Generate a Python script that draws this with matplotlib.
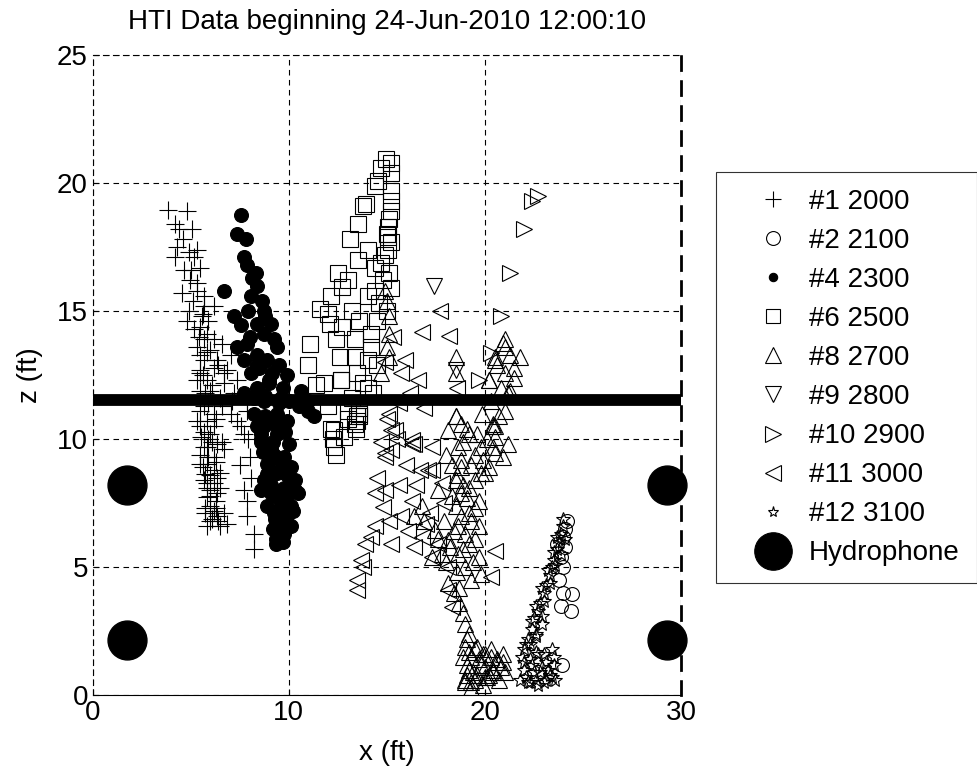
import matplotlib
matplotlib.use("Agg")
import matplotlib.pyplot as plt
from matplotlib.lines import Line2D

plt.rcParams["font.family"] = ["Liberation Sans", "DejaVu Sans"]

TITLE = "HTI Data beginning 24-Jun-2010 12:00:10"
X_TICKS = [0, 10, 20, 30]
Z_TICKS = [0, 5, 10, 15, 20, 25]

# track #1 (2000)
t1_x = [3.86, 4.80, 4.20, 5.06, 4.38, 4.29, 5.30, 5.15, 4.20, 4.63, 5.49, 4.97,
        5.30, 4.55, 5.66, 6.17, 4.80, 5.57, 5.15, 5.66, 6.60, 5.49, 6.34, 5.49,
        6.85, 5.83, 6.68, 5.49, 7.20, 5.49, 7.03, 7.88, 5.83, 5.30, 7.54, 6.00,
        6.34, 5.66, 6.68, 5.83, 6.17, 5.66, 8.05, 6.51, 7.70, 7.88, 5.83, 6.17,
        6.68, 6.00, 6.51, 7.88, 8.20, 8.20, 5.49, 5.74, 5.66, 5.90, 5.49, 6.00,
        6.26, 5.66, 5.49, 5.83, 5.30, 6.00, 5.66, 6.17, 5.30, 6.00, 6.50, 5.66,
        6.17, 5.49, 6.17, 5.83, 5.49, 6.17, 5.74, 6.34, 5.83, 6.34, 6.00, 5.74,
        6.34, 6.85, 5.83, 6.68, 7.03, 7.37, 7.88, 7.37, 7.70, 5.60, 5.90, 5.40,
        6.20, 5.80, 6.40, 5.60, 6.10, 6.60, 5.90, 6.30, 5.50, 6.10, 6.60, 5.90,
        6.30, 5.60, 6.00, 6.50, 5.80, 6.20, 6.00, 5.70, 6.30, 6.10, 6.40, 7.90,
        7.50, 8.00, 7.10, 4.60, 4.90, 5.00, 5.30, 5.10, 4.90]
t1_z = [18.95, 18.90, 18.40, 18.20, 18.20, 17.50, 17.40, 17.10, 17.10, 16.60,
        16.70, 16.20, 15.80, 15.70, 15.60, 15.20, 14.60, 14.80, 14.30, 13.90,
        13.70, 13.30, 13.10, 12.70, 12.70, 12.30, 12.20, 11.90, 11.80, 11.10,
        11.00, 11.10, 10.70, 10.70, 10.50, 10.20, 9.80, 9.70, 9.60, 9.05, 8.80,
        8.40, 8.50, 8.10, 8.00, 7.60, 7.75, 7.20, 7.10, 6.80, 6.60, 7.00, 6.30,
        5.70, 12.60, 11.80, 10.30, 10.00, 9.05, 8.00, 7.60, 15.20, 14.40, 14.10,
        13.60, 13.50, 13.10, 12.80, 12.30, 11.90, 11.60, 11.30, 11.00, 10.50,
        10.50, 9.70, 9.40, 9.30, 8.65, 8.50, 8.10, 7.90, 7.40, 7.10, 7.00, 6.70,
        6.60, 12.60, 13.30, 12.30, 11.40, 10.70, 10.20, 14.90, 14.60, 14.00,
        13.90, 13.40, 12.90, 12.50, 12.10, 11.30, 11.40, 10.80, 10.10, 9.90,
        9.90, 9.30, 9.10, 8.90, 8.60, 8.70, 8.30, 8.30, 7.80, 7.30, 7.30, 6.90,
        6.80, 10.00, 9.00, 9.30, 11.50, 17.80, 17.30, 16.60, 16.10, 15.40, 15.00]

# track #2 (2100)
t2_x = [24.20, 24.10, 24.00, 24.10, 23.90, 24.00, 23.80, 24.00, 23.90, 24.40,
        24.46, 23.95, 23.70]
t2_z = [6.80, 6.50, 6.20, 5.80, 5.40, 5.00, 4.50, 4.00, 3.50, 3.30, 3.97, 1.17,
        5.90]

# track #4 (2300)
t4_x = [7.54, 7.37, 7.80, 7.70, 7.88, 8.30, 8.40, 6.68, 8.05, 8.65, 8.73, 7.20,
        7.54, 8.40, 9.08, 8.73, 9.25, 7.37, 7.88, 9.42, 8.40, 8.90, 7.70, 9.93,
        8.05, 9.16, 9.68, 10.60, 8.40, 7.70, 8.73, 10.96, 11.30, 8.22, 9.42,
        9.93, 8.73, 9.42, 8.56, 10.00, 9.08, 9.76, 8.90, 10.10, 9.42, 8.73,
        10.30, 9.76, 9.08, 10.45, 9.60, 10.10, 9.25, 9.93, 9.42, 10.10, 9.76,
        9.33, 9.33, 8.90, 9.25, 9.60, 8.40, 9.00, 9.50, 8.80, 9.20, 9.70, 8.60,
        9.10, 9.55, 9.85, 9.30, 8.50, 9.00, 8.20, 9.60, 8.80, 9.30, 8.60, 9.80,
        9.20, 8.70, 9.50, 9.00, 9.90, 8.60, 9.30, 9.90, 8.90, 9.60, 10.20, 9.20,
        9.70, 10.30, 8.40, 8.00, 8.80, 7.90, 8.10, 9.50, 10.00, 11.00, 10.50]
t4_z = [18.75, 18.00, 17.80, 17.10, 16.80, 16.50, 16.00, 15.80, 15.60, 15.40,
        15.00, 14.80, 14.45, 14.50, 14.50, 14.10, 13.90, 13.60, 13.70, 13.60,
        13.30, 13.10, 13.10, 12.50, 12.60, 12.60, 12.00, 11.90, 12.00, 11.80,
        11.50, 11.10, 10.90, 11.00, 11.00, 10.70, 10.50, 10.20, 10.00, 9.80,
        9.60, 9.30, 9.05, 8.90, 8.70, 8.40, 8.40, 8.10, 7.90, 7.90, 7.60, 7.40,
        7.10, 7.00, 6.60, 6.60, 6.30, 6.10, 5.90, 8.65, 9.40, 10.50, 10.50,
        12.20, 11.40, 11.70, 10.80, 9.10, 9.90, 8.20, 7.30, 8.00, 6.90, 12.80,
        12.30, 11.60, 11.60, 10.90, 10.60, 10.20, 10.30, 9.90, 9.50, 9.20, 8.80,
        8.60, 8.00, 7.80, 7.80, 7.40, 6.90, 7.20, 6.50, 6.00, 8.00, 12.90, 14.00,
        14.80, 15.00, 16.30, 12.90, 11.50, 11.50, 11.30]

# track #6 (2500)
t6_x = [14.97, 15.20, 14.70, 15.20, 14.55, 14.40, 15.20, 15.20, 13.95, 13.80,
        15.20, 13.52, 15.06, 13.10, 15.06, 14.03, 15.06, 13.52, 14.70, 14.40,
        12.50, 13.00, 12.70, 14.40, 14.03, 12.16, 12.00, 13.20, 13.60, 12.70,
        14.20, 13.35, 12.40, 12.60, 13.35, 14.03, 12.66, 13.50, 11.80, 14.03,
        11.98, 13.00, 13.50, 13.35, 12.15, 12.30, 12.40, 11.40, 12.67, 11.60,
        12.10, 11.10, 11.00, 12.30, 12.25, 13.45, 13.60, 15.10, 15.00, 15.20,
        14.90, 15.10, 14.80, 15.20, 14.60, 15.00, 14.50, 14.20, 14.50, 13.80,
        13.20, 13.60, 13.00, 12.80, 13.40, 13.60, 14.30]
t6_z = [20.96, 20.80, 20.60, 20.40, 20.10, 19.90, 19.70, 19.30, 19.20, 19.10,
        18.90, 18.40, 18.30, 17.80, 17.90, 17.40, 17.40, 17.00, 16.90, 16.70,
        16.50, 16.20, 15.95, 15.80, 15.60, 15.60, 14.90, 15.00, 14.60, 14.40,
        14.10, 13.90, 13.90, 13.20, 13.20, 13.10, 12.30, 12.60, 12.20, 12.00,
        11.30, 11.10, 10.90, 10.60, 10.40, 9.70, 9.40, 12.10, 12.30, 15.10,
        14.50, 13.70, 12.90, 10.35, 10.00, 10.70, 11.00, 18.60, 18.00, 17.70,
        17.20, 16.50, 16.20, 15.90, 15.30, 15.00, 14.60, 13.60, 12.90, 12.20,
        11.60, 11.20, 10.80, 10.10, 10.40, 10.90, 11.80]

# track #8 (2700)
t8_x = [21.00, 21.80, 21.50, 21.30, 21.00, 20.50, 20.50, 20.00, 20.90, 20.50,
        20.20, 21.00, 20.50, 21.50, 20.20, 21.20, 18.50, 18.50, 14.90, 15.00,
        15.10, 15.10, 15.00, 15.10, 14.70, 18.50, 18.10, 19.20, 20.40, 19.80,
        21.20, 18.80, 20.90, 18.65, 19.50, 18.80, 19.80, 18.50, 19.20, 18.80,
        19.70, 18.50, 19.20, 18.65, 19.70, 18.10, 19.20, 17.80, 18.65, 19.70,
        17.30, 19.00, 19.80, 19.30, 16.80, 16.40, 16.90, 17.45, 20.40, 20.50,
        20.40, 19.85, 20.70, 18.80, 18.50, 18.70, 18.90, 19.20, 19.00, 18.90,
        19.10, 19.40, 19.70, 20.00, 20.30, 20.60, 20.90, 19.00, 19.30, 19.60,
        20.00, 20.40, 20.80, 19.20, 19.50, 19.90, 20.20, 19.30, 18.90, 19.30,
        18.60, 19.50, 18.90, 19.10, 18.30, 19.50, 18.80, 19.30, 18.40, 19.00,
        19.50, 18.20, 18.90, 19.40, 18.60, 18.00, 19.60, 19.10, 20.10, 20.30,
        20.80, 21.00, 20.60, 21.30, 19.90, 20.20, 18.30, 18.00, 17.60, 17.90,
        17.60, 18.10, 18.40, 18.70, 19.00, 19.10, 19.00, 19.20, 19.50, 19.80,
        20.10, 20.40, 20.70, 21.00, 19.30, 19.60, 20.00, 20.30, 20.60, 20.90,
        19.10, 19.90]
t8_z = [13.60, 13.20, 12.40, 11.90, 11.10, 10.50, 9.45, 8.70, 13.75, 13.10,
        12.30, 13.90, 13.20, 12.80, 12.30, 11.80, 13.20, 12.60, 15.80, 15.40,
        14.80, 14.10, 13.60, 13.20, 12.60, 10.90, 10.35, 10.20, 10.50, 9.70,
        9.80, 9.20, 9.30, 9.70, 9.40, 8.90, 8.70, 8.40, 8.10, 7.90, 7.60, 7.40,
        7.10, 6.60, 6.60, 6.05, 5.90, 5.50, 5.50, 5.40, 5.40, 5.00, 4.75, 4.50,
        7.40, 7.00, 6.80, 6.45, 9.70, 10.10, 10.60, 11.00, 10.90, 10.60, 10.90,
        4.20, 3.20, 2.40, 1.90, 1.50, 1.20, 0.90, 1.40, 1.10, 1.50, 1.30, 1.60,
        0.60, 0.50, 0.80, 0.70, 0.90, 1.10, 1.70, 1.80, 1.60, 0.80, 0.30, 9.90,
        9.00, 8.60, 8.40, 8.20, 7.70, 7.80, 7.30, 7.00, 6.80, 6.40, 6.30, 6.10,
        5.80, 5.70, 5.20, 4.80, 5.20, 10.20, 10.40, 10.00, 11.50, 12.00, 12.60,
        12.90, 13.30, 9.20, 8.90, 9.00, 9.40, 8.00, 6.80, 6.10, 4.40, 4.00,
        3.60, 2.80, 2.20, 0.50, 1.00, 0.60, 1.20, 0.70, 1.00, 0.60, 0.90, 1.50,
        1.90, 1.60, 1.80, 1.40, 1.30, 0.80, 0.40]

# track #9 (2800)
t9_x = [17.40, 18.50]
t9_z = [16.00, 12.70]

# track #10 (2900)
t10_x = [22.70, 22.40, 22.00, 21.30, 20.80, 20.30, 19.70]
t10_z = [19.50, 19.30, 18.20, 16.50, 14.80, 13.35, 12.30]

# track #11 (3000)
t11_x = [17.70, 16.80, 18.15, 15.90, 15.70, 16.60, 16.90, 15.10, 15.40, 16.30,
         14.90, 15.20, 16.26, 15.20, 14.90, 17.30, 17.10, 14.50, 14.40, 14.80,
         14.40, 13.90, 13.70, 13.50, 13.50, 15.20, 15.70, 16.40, 16.80, 18.10,
         18.30, 20.50, 20.30, 16.70, 17.80, 16.26, 17.30, 16.40, 17.30, 18.10,
         17.00, 18.60, 17.20, 15.00, 15.50, 14.70, 16.00, 15.60, 14.90, 16.50,
         15.10, 14.20, 13.80, 16.10, 17.60, 17.90, 15.30, 14.90, 16.20, 15.60]
t11_z = [15.00, 14.20, 14.05, 13.10, 12.60, 12.30, 11.20, 11.00, 10.35, 9.95,
         9.45, 10.35, 9.83, 9.57, 9.30, 9.70, 8.80, 8.50, 7.90, 7.35, 6.60,
         5.90, 5.30, 4.50, 4.10, 5.90, 7.00, 5.80, 6.20, 4.10, 3.45, 5.65, 4.60,
         8.80, 8.30, 7.60, 5.40, 9.80, 8.80, 5.00, 6.70, 12.00, 7.10, 10.80,
         10.00, 9.90, 9.00, 8.20, 8.00, 8.20, 6.80, 6.20, 5.00, 6.40, 5.90, 7.50,
         14.00, 13.00, 11.80, 11.40]

# track #12 (3100)
t12_x = [22.00, 22.20, 22.40, 22.50, 22.70, 22.80, 23.00, 23.10, 23.30, 23.40,
         23.50, 23.70, 23.80, 23.90, 24.00, 21.90, 22.30, 22.70, 23.10, 23.50,
         22.00, 22.50, 22.90, 23.30, 21.80, 22.20, 22.60, 23.00, 23.40, 22.10,
         22.90, 22.60, 22.10, 22.40, 22.80, 23.20, 23.50, 22.30, 22.70, 23.10,
         23.60, 22.00, 22.60, 23.00, 23.40, 22.30, 22.60, 22.40, 22.90, 22.60,
         23.00, 22.90, 23.30, 23.20, 23.60, 23.50, 23.90, 23.70, 24.10, 24.00]
t12_z = [1.80, 2.20, 2.60, 3.00, 3.30, 3.60, 4.00, 4.30, 4.70, 5.00, 5.30,
         5.70, 6.00, 6.30, 6.60, 1.50, 1.40, 1.60, 1.30, 1.50, 1.00, 0.90, 1.10,
         0.80, 0.60, 0.50, 0.60, 0.50, 0.70, 2.00, 2.80, 2.40, 0.70, 1.20, 0.90,
         1.00, 1.20, 0.50, 0.40, 0.60, 0.60, 1.30, 1.70, 1.60, 1.80, 2.00, 2.30,
         2.90, 3.10, 3.50, 3.70, 4.20, 4.40, 4.90, 5.10, 5.60, 5.50, 6.20, 6.10,
         6.90]

# hydrophone positions and the thick line
hyd_x = [1.75, 1.75, 29.3, 29.3]
hyd_z = [8.2, 2.15, 8.2, 2.15]
line_z = 11.55

fig = plt.figure(figsize=(9.77, 7.76), dpi=100)
ax = fig.add_axes([0.095, 0.104, 0.602, 0.825])

mk = dict(linestyle="none", color="black", markeredgewidth=0.8)
ax.plot(t1_x, t1_z, marker="+", markersize=13, **mk)
ax.plot(t2_x, t2_z, marker="o", markersize=10, markerfacecolor="none", **mk)
ax.plot(t4_x, t4_z, marker="o", markersize=10, **mk)
ax.plot(t6_x, t6_z, marker="s", markersize=11, markerfacecolor="none", **mk)
ax.plot(t8_x, t8_z, marker="^", markersize=12, markerfacecolor="none", **mk)
ax.plot(t9_x, t9_z, marker="v", markersize=12, markerfacecolor="none", **mk)
ax.plot(t10_x, t10_z, marker=">", markersize=12, markerfacecolor="none", **mk)
ax.plot(t11_x, t11_z, marker="<", markersize=12, markerfacecolor="none", **mk)
ax.plot(t12_x, t12_z, marker="*", markersize=10, markerfacecolor="none", **mk)

ax.axhline(line_z, color="black", linewidth=8.5, zorder=5)
ax.plot(hyd_x, hyd_z, linestyle="none", marker="o", markersize=28,
        color="black", zorder=6, clip_on=False)

ax.set_xlim(0, 30)
ax.set_ylim(0, 25)
ax.set_xticks(X_TICKS)
ax.set_yticks(Z_TICKS)
ax.tick_params(direction="in", labelsize=20, length=4)
ax.grid(True, color="black", linestyle=(0, (5, 4)), linewidth=0.8)
for side in ["top", "left", "right"]:
    ax.spines[side].set_linestyle((0, (5, 4)))
ax.spines["right"].set_linewidth(2)

ax.set_title(TITLE, fontsize=20, pad=19)
ax.set_xlabel("x (ft)", fontsize=20, labelpad=10)
ax.set_ylabel("z (ft)", fontsize=20, labelpad=10)

labels = ["#1 2000", "#2 2100", "#4 2300", "#6 2500", "#8 2700",
          "#9 2800", "#10 2900", "#11 3000", "#12 3100", "Hydrophone"]
styles = [("+", 11, "black"), ("o", 10, "none"), ("o", 6, "black"),
          ("s", 10, "none"), ("^", 11, "none"), ("v", 11, "none"),
          (">", 11, "none"), ("<", 11, "none"), ("*", 8, "none"),
          ("o", 27, "black")]
handles = [Line2D([], [], linestyle="none", marker=m, markersize=s,
                  markerfacecolor=f, markeredgecolor="black",
                  markeredgewidth=0.8)
           for m, s, f in styles]
leg = fig.legend(handles, labels, loc="upper left",
                 bbox_to_anchor=(0.733, 0.778), fontsize=20,
                 frameon=True, fancybox=False, borderpad=0.6,
                 borderaxespad=0, handlelength=2.9, handletextpad=-0.15,
                 labelspacing=0.47)
leg.get_frame().set_edgecolor("black")
leg.get_frame().set_linewidth(0.8)

fig.savefig("out.png", dpi=100)
